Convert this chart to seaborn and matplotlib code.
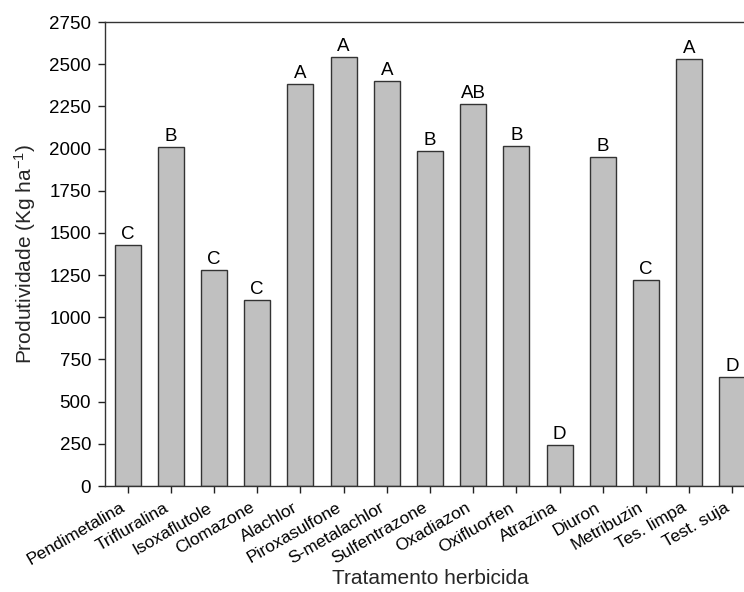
import matplotlib
matplotlib.use("Agg")
import matplotlib.pyplot as plt
import seaborn as sns
import pandas as pd

# Grain yield by herbicide treatment, with mean-separation letters
tratamentos = [
    "Pendimetalina", "Trifluralina", "Isoxaflutole", "Clomazone", "Alachlor",
    "Piroxasulfone", "S-metalachlor", "Sulfentrazone", "Oxadiazon", "Oxifluorfen",
    "Atrazina", "Diuron", "Metribuzin", "Tes. limpa", "Test. suja",
]
produtividade = [
    1430, 2008, 1280, 1102, 2383,
    2541, 2402, 1988, 2264, 2015,
    242, 1950, 1222, 2528, 645,
]
letras = ["C", "B", "C", "C", "A", "A", "A", "B", "AB", "B", "D", "B", "C", "A", "D"]
yticks = [0, 250, 500, 750, 1000, 1250, 1500, 1750, 2000, 2250, 2500, 2750]

df = pd.DataFrame({"tratamento": tratamentos, "produtividade": produtividade})

sns.set_theme(style="ticks")
plt.rcParams["font.family"] = ["Liberation Sans", "DejaVu Sans"]
plt.rcParams["mathtext.fontset"] = "custom"
plt.rcParams["mathtext.rm"] = "Liberation Sans"
plt.rcParams["mathtext.it"] = "Liberation Sans"
plt.rcParams["axes.linewidth"] = 1.0
plt.rcParams["axes.edgecolor"] = "#333333"

fig = plt.figure(figsize=(7.44, 5.92), dpi=100)
ax = fig.add_axes([0.1411, 0.179, 0.8737, 0.7838])

sns.barplot(
    data=df, x="tratamento", y="produtividade", ax=ax,
    color="#c0c0c0", saturation=1, width=0.6,
    edgecolor="#333333", linewidth=1.0,
)

for i, (v, lt) in enumerate(zip(produtividade, letras)):
    ax.annotate(lt, (i, v), xytext=(0, 1.5), textcoords="offset points",
                ha="center", va="bottom", fontsize=13.5, color="black")

ax.set_xlim(-0.525, len(tratamentos) - 0.475)
ax.set_ylim(0, 2750)
ax.set_yticks(yticks)
ax.set_yticklabels([str(t) for t in yticks], fontsize=13.5)
ax.set_xticks(range(len(tratamentos)))
ax.set_xticklabels(tratamentos, rotation=30, ha="right", fontsize=12.5)
ax.tick_params(axis="both", direction="out", length=5, width=1.0,
               color="#222222", labelcolor="black")
ax.tick_params(axis="y", pad=5)
ax.tick_params(axis="x", pad=5)

ax.set_xlabel("Tratamento herbicida", fontsize=15, labelpad=1)
ax.set_ylabel(r"Produtividade (Kg ha$^{\mathrm{-1}}$)", fontsize=15, labelpad=8)

fig.savefig("out.png", dpi=100)
